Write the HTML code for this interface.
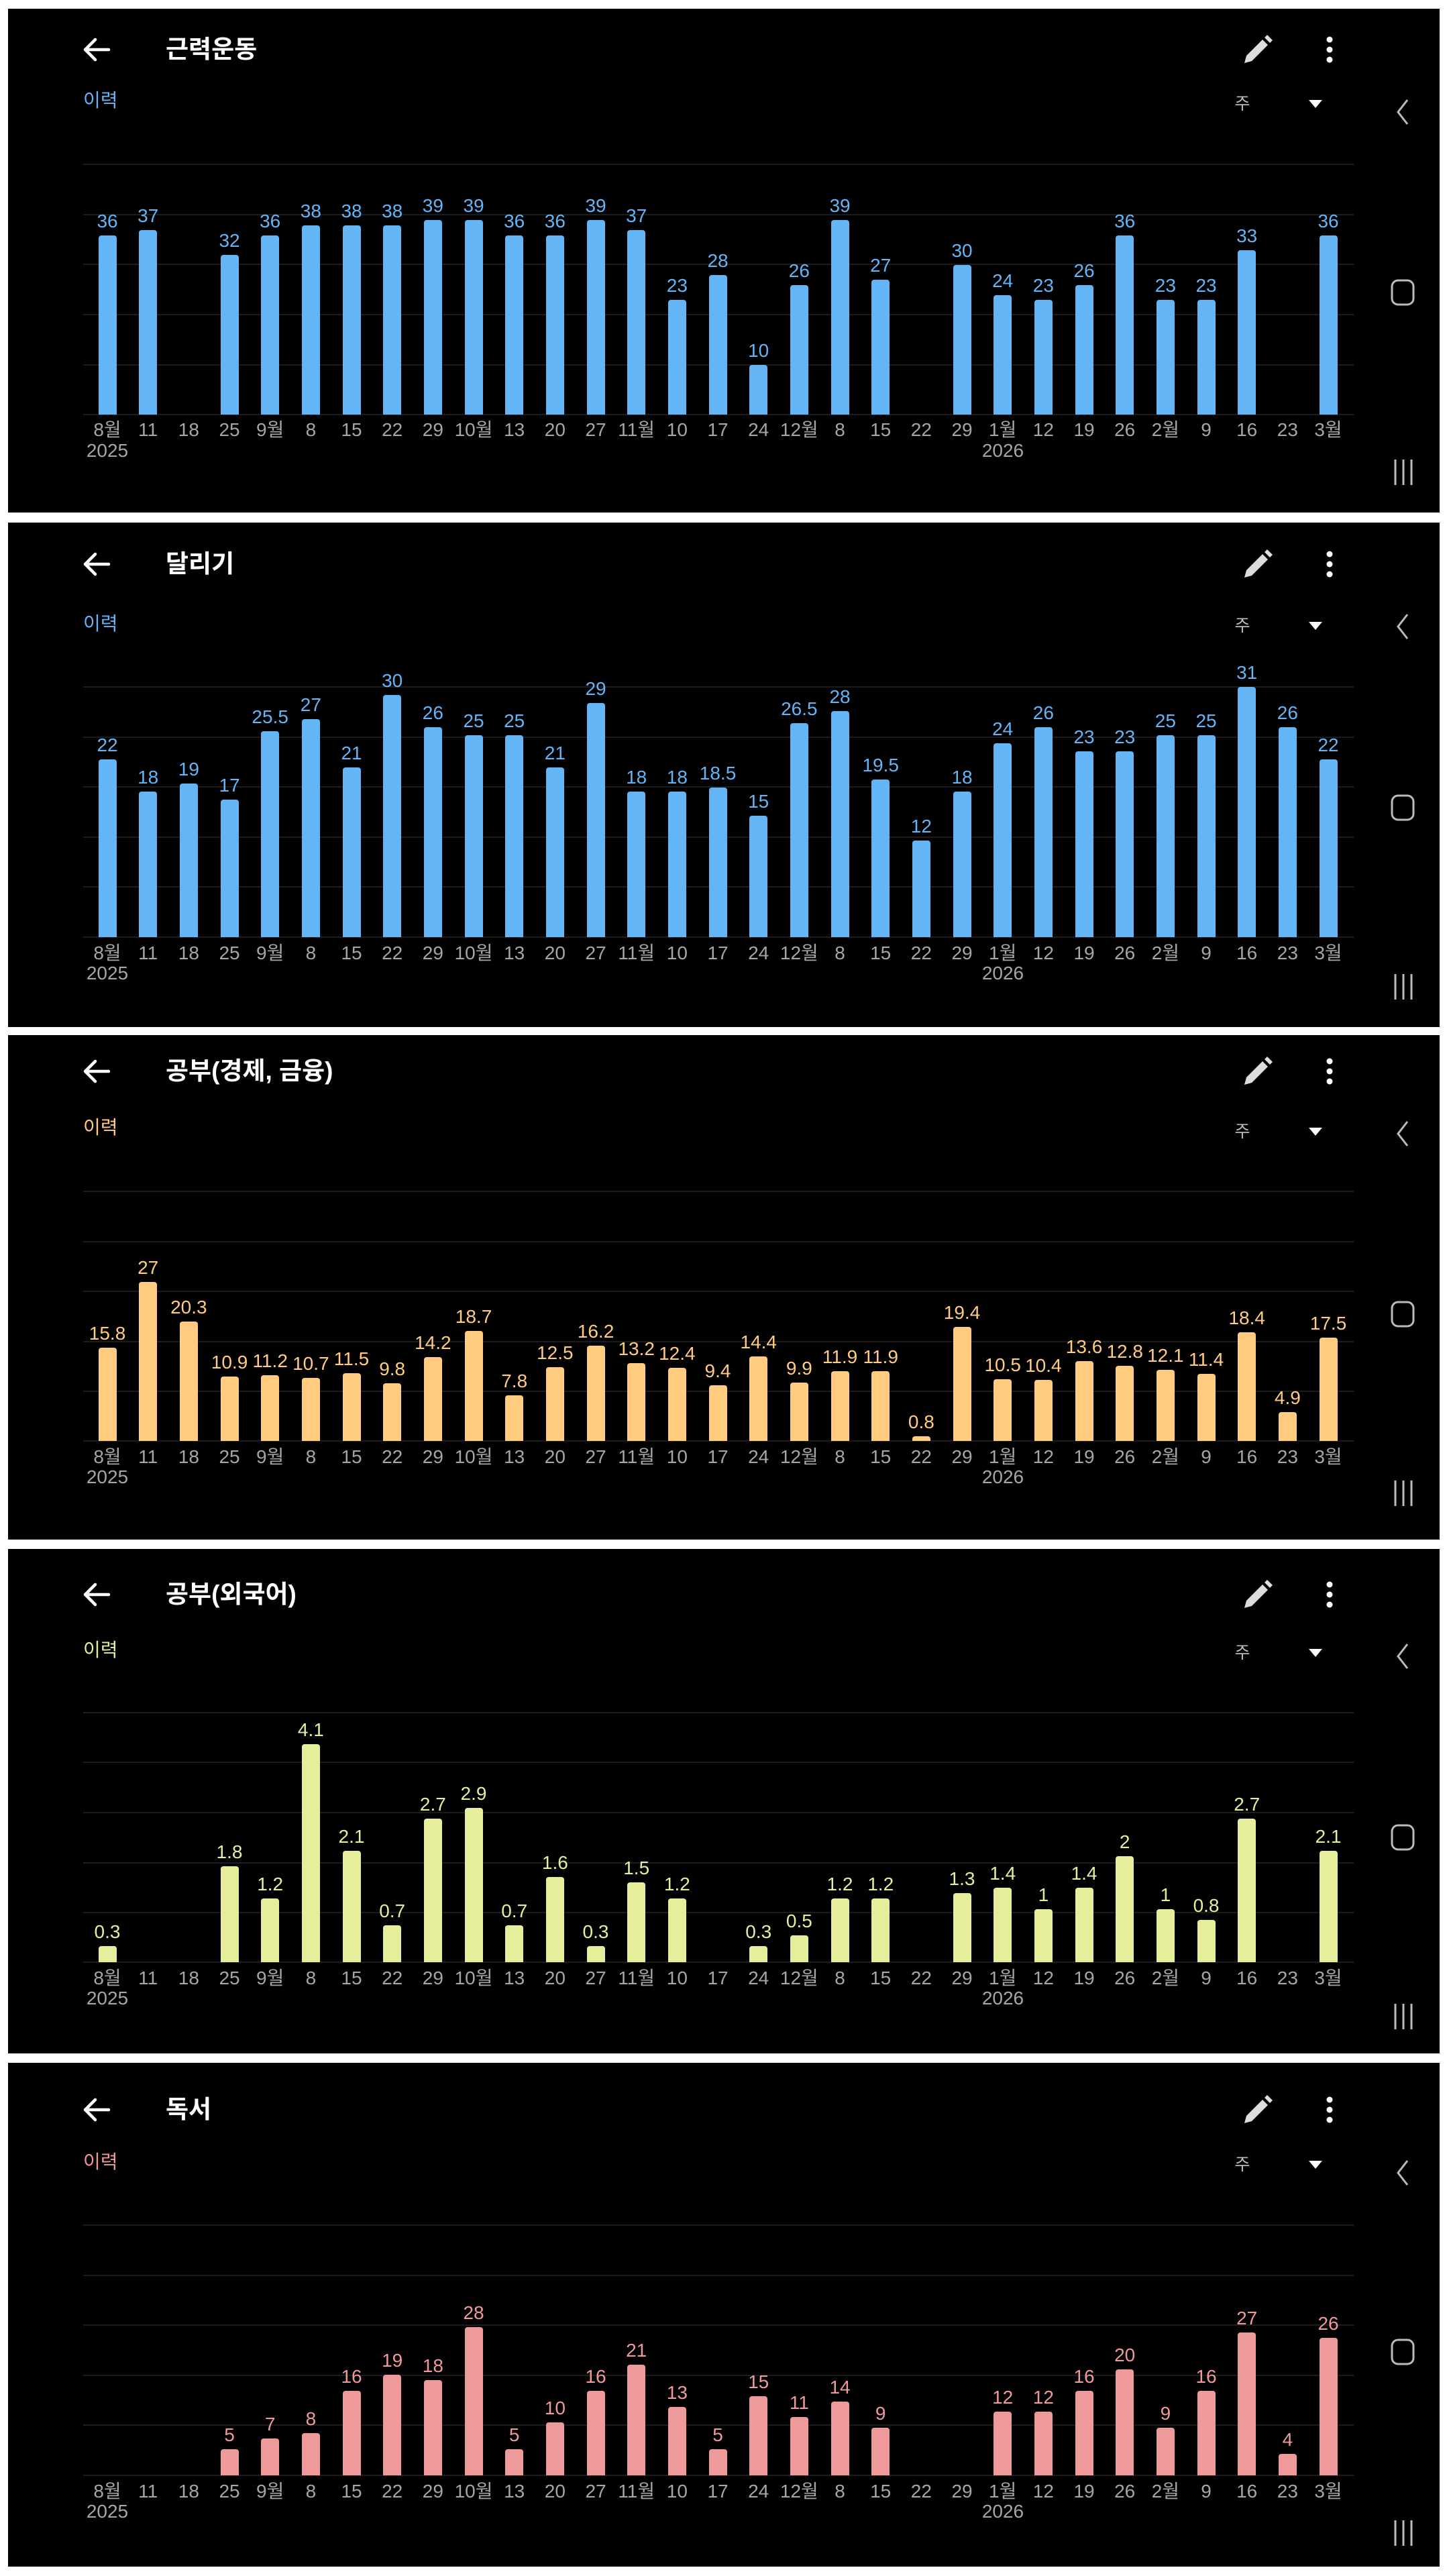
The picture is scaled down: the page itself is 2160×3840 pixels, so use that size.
<!DOCTYPE html>
<html><head><meta charset="utf-8">
<style>
*{margin:0;padding:0;box-sizing:border-box}
html,body{width:2160px;height:3840px;background:#fff;overflow:hidden}
body{position:relative;font-family:"Liberation Sans Narrow","Liberation Sans","Noto Sans CJK KR",sans-serif}
.p{position:absolute;left:12px;width:2134px;background:#000;overflow:hidden}
.in{position:absolute;left:-12px;top:0;width:2160px;height:100%}
.in>*{position:absolute}
.back{left:122px;width:44px;height:40px}
.t{left:247px;font-family:"Liberation Sans","Noto Sans CJK KR",sans-serif;font-weight:bold;font-size:37px;color:#fff;line-height:40px;transform:translateY(-50%)}
.h{left:124px;font-family:"Liberation Sans","Noto Sans CJK KR",sans-serif;font-size:28px;line-height:30px;transform:translateY(-50%)}
.pen{left:1852px;width:46px;height:46px}
.dots{left:1970px;width:24px;height:46px}
.ju{left:1837px;width:30px;text-align:center;font-family:"Liberation Sans","Noto Sans CJK KR",sans-serif;font-size:25px;color:#bbb;line-height:28px;transform:translateY(-50%)}
.tri{left:1949px;width:24px;height:16px}
.nl{left:2078px;width:26px;height:44px}
.no{left:2072px;width:38px;height:42px}
.nm{left:2074px;width:36px;height:42px}
.g{left:124px;width:1894px;height:2px;background:#1c1c1c}
.bars{left:129.7px;width:1880.7px;top:0;display:grid;grid-template-columns:repeat(31,1fr);align-items:end}
.bars>div{display:flex;flex-direction:column;align-items:center;justify-content:flex-end;height:100%}
.bars span{font-size:28px;line-height:28px;margin-bottom:7px;white-space:nowrap}
.bars i{display:block;width:27px;height:calc(var(--v)*var(--k));border-radius:4px 4px 0 0}
.xl{left:129.7px;width:1880.7px;display:grid;grid-template-columns:repeat(31,1fr);font-size:28px;line-height:30px;color:#a6a6a6;text-align:center;transform:translateY(-50%)}
.xl div{white-space:nowrap}
.yr{font-size:28px;line-height:30px;color:#a6a6a6;width:80px;text-align:center;transform:translateY(-50%)}
.blue span{color:#64b5f6}.blue i{background:#64b5f6}
.org span{color:#ffcc80}.org i{background:#ffcc80}
.ylw span{color:#e6ee9c}.ylw i{background:#e6ee9c}
.pnk span{color:#ef9a9a}.pnk i{background:#ef9a9a}
</style></head><body>

<!-- PANEL 1 -->
<div class="p" style="top:13px;height:751px"><div class="in">
<svg class="back" style="top:41px" viewBox="0 0 44 40"><path d="M40 20H6M20 5L5 20L20 35" stroke="#fff" stroke-width="4.5" fill="none" stroke-linecap="round" stroke-linejoin="round"/></svg>
<div class="t" style="top:61px">근력운동</div>
<svg class="pen" style="top:38px" viewBox="0 0 46 46"><path d="M3 43L6 32L30 8L38 16L14 40Z" fill="#ddd"/><path d="M33 5L37 1L45 9L41 13Z" fill="#ddd"/></svg>
<svg class="dots" style="top:38px" viewBox="0 0 24 46"><circle cx="12" cy="8" r="4.5" fill="#fff"/><circle cx="12" cy="23" r="4.5" fill="#fff"/><circle cx="12" cy="38" r="4.5" fill="#fff"/></svg>
<div class="h" style="top:137px;color:#64b5f6">이력</div>
<div class="ju" style="top:142px">주</div>
<svg class="tri" style="top:134px" viewBox="0 0 24 16"><path d="M2 2H22L12 14Z" fill="#fff"/></svg>
<svg class="nl" style="top:132px" viewBox="0 0 26 44"><path d="M20 4L6 22L20 40" stroke="#bbb" stroke-width="3" fill="none"/></svg>
<svg class="no" style="top:402px" viewBox="0 0 38 42"><rect x="3" y="3" width="32" height="36" rx="9" stroke="#bbb" stroke-width="3" fill="none"/></svg>
<svg class="nm" style="top:670px" viewBox="0 0 36 42"><path d="M6 2V40M18 2V40M30 2V40" stroke="#bbb" stroke-width="3"/></svg>
<div class="g" style="top:231px"></div><div class="g" style="top:306px"></div><div class="g" style="top:380px"></div><div class="g" style="top:455px"></div><div class="g" style="top:530px"></div><div class="g" style="top:604px"></div>
<div class="bars blue" style="height:605px;--k:7.43px">
<div><span>36</span><i style="--v:36"></i></div><div><span>37</span><i style="--v:37"></i></div><div></div><div><span>32</span><i style="--v:32"></i></div><div><span>36</span><i style="--v:36"></i></div><div><span>38</span><i style="--v:38"></i></div><div><span>38</span><i style="--v:38"></i></div><div><span>38</span><i style="--v:38"></i></div><div><span>39</span><i style="--v:39"></i></div><div><span>39</span><i style="--v:39"></i></div><div><span>36</span><i style="--v:36"></i></div><div><span>36</span><i style="--v:36"></i></div><div><span>39</span><i style="--v:39"></i></div><div><span>37</span><i style="--v:37"></i></div><div><span>23</span><i style="--v:23"></i></div><div><span>28</span><i style="--v:28"></i></div><div><span>10</span><i style="--v:10"></i></div><div><span>26</span><i style="--v:26"></i></div><div><span>39</span><i style="--v:39"></i></div><div><span>27</span><i style="--v:27"></i></div><div></div><div><span>30</span><i style="--v:30"></i></div><div><span>24</span><i style="--v:24"></i></div><div><span>23</span><i style="--v:23"></i></div><div><span>26</span><i style="--v:26"></i></div><div><span>36</span><i style="--v:36"></i></div><div><span>23</span><i style="--v:23"></i></div><div><span>23</span><i style="--v:23"></i></div><div><span>33</span><i style="--v:33"></i></div><div></div><div><span>36</span><i style="--v:36"></i></div>
</div>
<div class="xl" style="top:628px"><div>8월</div><div>11</div><div>18</div><div>25</div><div>9월</div><div>8</div><div>15</div><div>22</div><div>29</div><div>10월</div><div>13</div><div>20</div><div>27</div><div>11월</div><div>10</div><div>17</div><div>24</div><div>12월</div><div>8</div><div>15</div><div>22</div><div>29</div><div>1월</div><div>12</div><div>19</div><div>26</div><div>2월</div><div>9</div><div>16</div><div>23</div><div>3월</div></div>
<div class="yr" style="left:120px;top:659px">2025</div><div class="yr" style="left:1455px;top:659px">2026</div>
</div></div>

<!-- PANEL 2 -->
<div class="p" style="top:779px;height:752px"><div class="in">
<svg class="back" style="top:42px" viewBox="0 0 44 40"><path d="M40 20H6M20 5L5 20L20 35" stroke="#fff" stroke-width="4.5" fill="none" stroke-linecap="round" stroke-linejoin="round"/></svg>
<div class="t" style="top:62px">달리기</div>
<svg class="pen" style="top:39px" viewBox="0 0 46 46"><path d="M3 43L6 32L30 8L38 16L14 40Z" fill="#ddd"/><path d="M33 5L37 1L45 9L41 13Z" fill="#ddd"/></svg>
<svg class="dots" style="top:39px" viewBox="0 0 24 46"><circle cx="12" cy="8" r="4.5" fill="#fff"/><circle cx="12" cy="23" r="4.5" fill="#fff"/><circle cx="12" cy="38" r="4.5" fill="#fff"/></svg>
<div class="h" style="top:151px;color:#64b5f6">이력</div>
<div class="ju" style="top:154px">주</div>
<svg class="tri" style="top:146px" viewBox="0 0 24 16"><path d="M2 2H22L12 14Z" fill="#fff"/></svg>
<svg class="nl" style="top:133px" viewBox="0 0 26 44"><path d="M20 4L6 22L20 40" stroke="#bbb" stroke-width="3" fill="none"/></svg>
<svg class="no" style="top:404px" viewBox="0 0 38 42"><rect x="3" y="3" width="32" height="36" rx="9" stroke="#bbb" stroke-width="3" fill="none"/></svg>
<svg class="nm" style="top:671px" viewBox="0 0 36 42"><path d="M6 2V40M18 2V40M30 2V40" stroke="#bbb" stroke-width="3"/></svg>
<div class="g" style="top:244px"></div><div class="g" style="top:319px"></div><div class="g" style="top:393px"></div><div class="g" style="top:468px"></div><div class="g" style="top:542px"></div><div class="g" style="top:617px"></div>
<div class="bars blue" style="height:618px;--k:12.04px">
<div><span>22</span><i style="--v:22"></i></div><div><span>18</span><i style="--v:18"></i></div><div><span>19</span><i style="--v:19"></i></div><div><span>17</span><i style="--v:17"></i></div><div><span>25.5</span><i style="--v:25.5"></i></div><div><span>27</span><i style="--v:27"></i></div><div><span>21</span><i style="--v:21"></i></div><div><span>30</span><i style="--v:30"></i></div><div><span>26</span><i style="--v:26"></i></div><div><span>25</span><i style="--v:25"></i></div><div><span>25</span><i style="--v:25"></i></div><div><span>21</span><i style="--v:21"></i></div><div><span>29</span><i style="--v:29"></i></div><div><span>18</span><i style="--v:18"></i></div><div><span>18</span><i style="--v:18"></i></div><div><span>18.5</span><i style="--v:18.5"></i></div><div><span>15</span><i style="--v:15"></i></div><div><span>26.5</span><i style="--v:26.5"></i></div><div><span>28</span><i style="--v:28"></i></div><div><span>19.5</span><i style="--v:19.5"></i></div><div><span>12</span><i style="--v:12"></i></div><div><span>18</span><i style="--v:18"></i></div><div><span>24</span><i style="--v:24"></i></div><div><span>26</span><i style="--v:26"></i></div><div><span>23</span><i style="--v:23"></i></div><div><span>23</span><i style="--v:23"></i></div><div><span>25</span><i style="--v:25"></i></div><div><span>25</span><i style="--v:25"></i></div><div><span>31</span><i style="--v:31"></i></div><div><span>26</span><i style="--v:26"></i></div><div><span>22</span><i style="--v:22"></i></div>
</div>
<div class="xl" style="top:642px"><div>8월</div><div>11</div><div>18</div><div>25</div><div>9월</div><div>8</div><div>15</div><div>22</div><div>29</div><div>10월</div><div>13</div><div>20</div><div>27</div><div>11월</div><div>10</div><div>17</div><div>24</div><div>12월</div><div>8</div><div>15</div><div>22</div><div>29</div><div>1월</div><div>12</div><div>19</div><div>26</div><div>2월</div><div>9</div><div>16</div><div>23</div><div>3월</div></div>
<div class="yr" style="left:120px;top:672px">2025</div><div class="yr" style="left:1455px;top:672px">2026</div>
</div></div>

<!-- PANEL 3 -->
<div class="p" style="top:1543px;height:752px"><div class="in">
<svg class="back" style="top:34px" viewBox="0 0 44 40"><path d="M40 20H6M20 5L5 20L20 35" stroke="#fff" stroke-width="4.5" fill="none" stroke-linecap="round" stroke-linejoin="round"/></svg>
<div class="t" style="top:54px">공부(경제, 금융)</div>
<svg class="pen" style="top:31px" viewBox="0 0 46 46"><path d="M3 43L6 32L30 8L38 16L14 40Z" fill="#ddd"/><path d="M33 5L37 1L45 9L41 13Z" fill="#ddd"/></svg>
<svg class="dots" style="top:31px" viewBox="0 0 24 46"><circle cx="12" cy="8" r="4.5" fill="#fff"/><circle cx="12" cy="23" r="4.5" fill="#fff"/><circle cx="12" cy="38" r="4.5" fill="#fff"/></svg>
<div class="h" style="top:138px;color:#ffcc80">이력</div>
<div class="ju" style="top:144px">주</div>
<svg class="tri" style="top:136px" viewBox="0 0 24 16"><path d="M2 2H22L12 14Z" fill="#fff"/></svg>
<svg class="nl" style="top:125px" viewBox="0 0 26 44"><path d="M20 4L6 22L20 40" stroke="#bbb" stroke-width="3" fill="none"/></svg>
<svg class="no" style="top:395px" viewBox="0 0 38 42"><rect x="3" y="3" width="32" height="36" rx="9" stroke="#bbb" stroke-width="3" fill="none"/></svg>
<svg class="nm" style="top:662px" viewBox="0 0 36 42"><path d="M6 2V40M18 2V40M30 2V40" stroke="#bbb" stroke-width="3"/></svg>
<div class="g" style="top:232px"></div><div class="g" style="top:307px"></div><div class="g" style="top:381px"></div><div class="g" style="top:456px"></div><div class="g" style="top:530px"></div><div class="g" style="top:604px"></div>
<div class="bars org" style="height:605px;--k:8.78px">
<div><span>15.8</span><i style="--v:15.8"></i></div><div><span>27</span><i style="--v:27"></i></div><div><span>20.3</span><i style="--v:20.3"></i></div><div><span>10.9</span><i style="--v:10.9"></i></div><div><span>11.2</span><i style="--v:11.2"></i></div><div><span>10.7</span><i style="--v:10.7"></i></div><div><span>11.5</span><i style="--v:11.5"></i></div><div><span>9.8</span><i style="--v:9.8"></i></div><div><span>14.2</span><i style="--v:14.2"></i></div><div><span>18.7</span><i style="--v:18.7"></i></div><div><span>7.8</span><i style="--v:7.8"></i></div><div><span>12.5</span><i style="--v:12.5"></i></div><div><span>16.2</span><i style="--v:16.2"></i></div><div><span>13.2</span><i style="--v:13.2"></i></div><div><span>12.4</span><i style="--v:12.4"></i></div><div><span>9.4</span><i style="--v:9.4"></i></div><div><span>14.4</span><i style="--v:14.4"></i></div><div><span>9.9</span><i style="--v:9.9"></i></div><div><span>11.9</span><i style="--v:11.9"></i></div><div><span>11.9</span><i style="--v:11.9"></i></div><div><span>0.8</span><i style="--v:0.8"></i></div><div><span>19.4</span><i style="--v:19.4"></i></div><div><span>10.5</span><i style="--v:10.5"></i></div><div><span>10.4</span><i style="--v:10.4"></i></div><div><span>13.6</span><i style="--v:13.6"></i></div><div><span>12.8</span><i style="--v:12.8"></i></div><div><span>12.1</span><i style="--v:12.1"></i></div><div><span>11.4</span><i style="--v:11.4"></i></div><div><span>18.4</span><i style="--v:18.4"></i></div><div><span>4.9</span><i style="--v:4.9"></i></div><div><span>17.5</span><i style="--v:17.5"></i></div>
</div>
<div class="xl" style="top:629px"><div>8월</div><div>11</div><div>18</div><div>25</div><div>9월</div><div>8</div><div>15</div><div>22</div><div>29</div><div>10월</div><div>13</div><div>20</div><div>27</div><div>11월</div><div>10</div><div>17</div><div>24</div><div>12월</div><div>8</div><div>15</div><div>22</div><div>29</div><div>1월</div><div>12</div><div>19</div><div>26</div><div>2월</div><div>9</div><div>16</div><div>23</div><div>3월</div></div>
<div class="yr" style="left:120px;top:659px">2025</div><div class="yr" style="left:1455px;top:659px">2026</div>
</div></div>

<!-- PANEL 4 -->
<div class="p" style="top:2309px;height:752px"><div class="in">
<svg class="back" style="top:48px" viewBox="0 0 44 40"><path d="M40 20H6M20 5L5 20L20 35" stroke="#fff" stroke-width="4.5" fill="none" stroke-linecap="round" stroke-linejoin="round"/></svg>
<div class="t" style="top:68px">공부(외국어)</div>
<svg class="pen" style="top:45px" viewBox="0 0 46 46"><path d="M3 43L6 32L30 8L38 16L14 40Z" fill="#ddd"/><path d="M33 5L37 1L45 9L41 13Z" fill="#ddd"/></svg>
<svg class="dots" style="top:45px" viewBox="0 0 24 46"><circle cx="12" cy="8" r="4.5" fill="#fff"/><circle cx="12" cy="23" r="4.5" fill="#fff"/><circle cx="12" cy="38" r="4.5" fill="#fff"/></svg>
<div class="h" style="top:151px;color:#e6ee9c">이력</div>
<div class="ju" style="top:155px">주</div>
<svg class="tri" style="top:147px" viewBox="0 0 24 16"><path d="M2 2H22L12 14Z" fill="#fff"/></svg>
<svg class="nl" style="top:138px" viewBox="0 0 26 44"><path d="M20 4L6 22L20 40" stroke="#bbb" stroke-width="3" fill="none"/></svg>
<svg class="no" style="top:409px" viewBox="0 0 38 42"><rect x="3" y="3" width="32" height="36" rx="9" stroke="#bbb" stroke-width="3" fill="none"/></svg>
<svg class="nm" style="top:676px" viewBox="0 0 36 42"><path d="M6 2V40M18 2V40M30 2V40" stroke="#bbb" stroke-width="3"/></svg>
<div class="g" style="top:243px"></div><div class="g" style="top:317px"></div><div class="g" style="top:392px"></div><div class="g" style="top:467px"></div><div class="g" style="top:541px"></div><div class="g" style="top:615px"></div>
<div class="bars ylw" style="height:616px;--k:79.2px">
<div><span>0.3</span><i style="--v:0.3"></i></div><div></div><div></div><div><span>1.8</span><i style="--v:1.8"></i></div><div><span>1.2</span><i style="--v:1.2"></i></div><div><span>4.1</span><i style="--v:4.1"></i></div><div><span>2.1</span><i style="--v:2.1"></i></div><div><span>0.7</span><i style="--v:0.7"></i></div><div><span>2.7</span><i style="--v:2.7"></i></div><div><span>2.9</span><i style="--v:2.9"></i></div><div><span>0.7</span><i style="--v:0.7"></i></div><div><span>1.6</span><i style="--v:1.6"></i></div><div><span>0.3</span><i style="--v:0.3"></i></div><div><span>1.5</span><i style="--v:1.5"></i></div><div><span>1.2</span><i style="--v:1.2"></i></div><div></div><div><span>0.3</span><i style="--v:0.3"></i></div><div><span>0.5</span><i style="--v:0.5"></i></div><div><span>1.2</span><i style="--v:1.2"></i></div><div><span>1.2</span><i style="--v:1.2"></i></div><div></div><div><span>1.3</span><i style="--v:1.3"></i></div><div><span>1.4</span><i style="--v:1.4"></i></div><div><span>1</span><i style="--v:1"></i></div><div><span>1.4</span><i style="--v:1.4"></i></div><div><span>2</span><i style="--v:2"></i></div><div><span>1</span><i style="--v:1"></i></div><div><span>0.8</span><i style="--v:0.8"></i></div><div><span>2.7</span><i style="--v:2.7"></i></div><div></div><div><span>2.1</span><i style="--v:2.1"></i></div>
</div>
<div class="xl" style="top:640px"><div>8월</div><div>11</div><div>18</div><div>25</div><div>9월</div><div>8</div><div>15</div><div>22</div><div>29</div><div>10월</div><div>13</div><div>20</div><div>27</div><div>11월</div><div>10</div><div>17</div><div>24</div><div>12월</div><div>8</div><div>15</div><div>22</div><div>29</div><div>1월</div><div>12</div><div>19</div><div>26</div><div>2월</div><div>9</div><div>16</div><div>23</div><div>3월</div></div>
<div class="yr" style="left:120px;top:670px">2025</div><div class="yr" style="left:1455px;top:670px">2026</div>
</div></div>

<!-- PANEL 5 -->
<div class="p" style="top:3075px;height:751px"><div class="in">
<svg class="back" style="top:50px" viewBox="0 0 44 40"><path d="M40 20H6M20 5L5 20L20 35" stroke="#fff" stroke-width="4.5" fill="none" stroke-linecap="round" stroke-linejoin="round"/></svg>
<div class="t" style="top:70px">독서</div>
<svg class="pen" style="top:47px" viewBox="0 0 46 46"><path d="M3 43L6 32L30 8L38 16L14 40Z" fill="#ddd"/><path d="M33 5L37 1L45 9L41 13Z" fill="#ddd"/></svg>
<svg class="dots" style="top:47px" viewBox="0 0 24 46"><circle cx="12" cy="8" r="4.5" fill="#fff"/><circle cx="12" cy="23" r="4.5" fill="#fff"/><circle cx="12" cy="38" r="4.5" fill="#fff"/></svg>
<div class="h" style="top:148px;color:#ef9a9a">이력</div>
<div class="ju" style="top:152px">주</div>
<svg class="tri" style="top:144px" viewBox="0 0 24 16"><path d="M2 2H22L12 14Z" fill="#fff"/></svg>
<svg class="nl" style="top:142px" viewBox="0 0 26 44"><path d="M20 4L6 22L20 40" stroke="#bbb" stroke-width="3" fill="none"/></svg>
<svg class="no" style="top:410px" viewBox="0 0 38 42"><rect x="3" y="3" width="32" height="36" rx="9" stroke="#bbb" stroke-width="3" fill="none"/></svg>
<svg class="nm" style="top:680px" viewBox="0 0 36 42"><path d="M6 2V40M18 2V40M30 2V40" stroke="#bbb" stroke-width="3"/></svg>
<div class="g" style="top:241px"></div><div class="g" style="top:316px"></div><div class="g" style="top:390px"></div><div class="g" style="top:465px"></div><div class="g" style="top:539px"></div><div class="g" style="top:614px"></div>
<div class="bars pnk" style="height:615px;--k:7.88px">
<div></div><div></div><div></div><div><span>5</span><i style="--v:5"></i></div><div><span>7</span><i style="--v:7"></i></div><div><span>8</span><i style="--v:8"></i></div><div><span>16</span><i style="--v:16"></i></div><div><span>19</span><i style="--v:19"></i></div><div><span>18</span><i style="--v:18"></i></div><div><span>28</span><i style="--v:28"></i></div><div><span>5</span><i style="--v:5"></i></div><div><span>10</span><i style="--v:10"></i></div><div><span>16</span><i style="--v:16"></i></div><div><span>21</span><i style="--v:21"></i></div><div><span>13</span><i style="--v:13"></i></div><div><span>5</span><i style="--v:5"></i></div><div><span>15</span><i style="--v:15"></i></div><div><span>11</span><i style="--v:11"></i></div><div><span>14</span><i style="--v:14"></i></div><div><span>9</span><i style="--v:9"></i></div><div></div><div></div><div><span>12</span><i style="--v:12"></i></div><div><span>12</span><i style="--v:12"></i></div><div><span>16</span><i style="--v:16"></i></div><div><span>20</span><i style="--v:20"></i></div><div><span>9</span><i style="--v:9"></i></div><div><span>16</span><i style="--v:16"></i></div><div><span>27</span><i style="--v:27"></i></div><div><span>4</span><i style="--v:4"></i></div><div><span>26</span><i style="--v:26"></i></div>
</div>
<div class="xl" style="top:639px"><div>8월</div><div>11</div><div>18</div><div>25</div><div>9월</div><div>8</div><div>15</div><div>22</div><div>29</div><div>10월</div><div>13</div><div>20</div><div>27</div><div>11월</div><div>10</div><div>17</div><div>24</div><div>12월</div><div>8</div><div>15</div><div>22</div><div>29</div><div>1월</div><div>12</div><div>19</div><div>26</div><div>2월</div><div>9</div><div>16</div><div>23</div><div>3월</div></div>
<div class="yr" style="left:120px;top:669px">2025</div><div class="yr" style="left:1455px;top:669px">2026</div>
</div></div>

</body></html>
